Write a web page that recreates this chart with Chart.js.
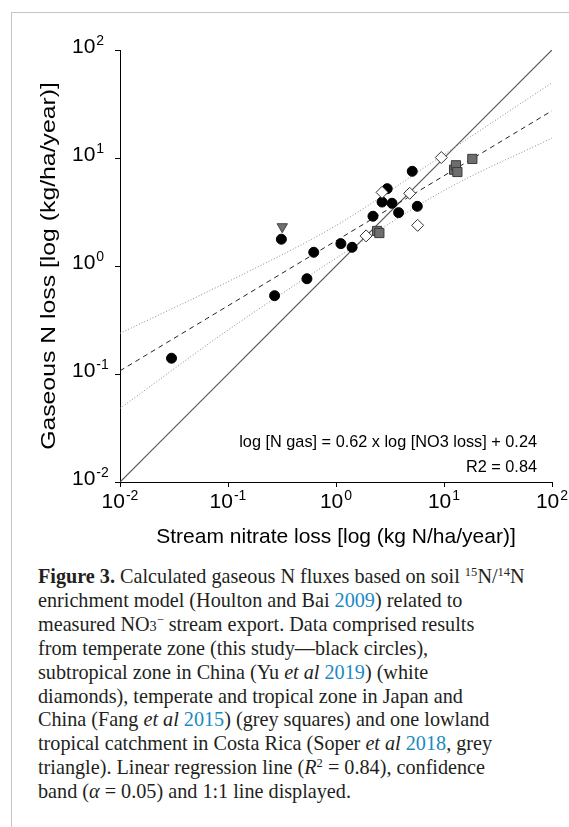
<!DOCTYPE html>
<html>
<head>
<meta charset="utf-8">
<script src="https://cdn.jsdelivr.net/npm/chart.js@4.4.0/dist/chart.umd.min.js"></script>
<style>
body{margin:0;background:#fff;width:569px;height:827px;overflow:hidden;position:relative;}
#frame{position:absolute;left:11px;top:12px;width:600px;height:900px;border-left:1px solid #c4c4c4;border-top:1px solid #c4c4c4;}
#plot{position:absolute;left:0;top:0;}
#caption{position:absolute;left:38px;top:565px;font-family:'Liberation Serif','Times New Roman',serif;font-size:20.2px;line-height:23.9px;color:#231f20;white-space:nowrap;}
#caption a{color:#1b8ac2;text-decoration:none;}
#caption sup{font-size:0.62em;line-height:0;vertical-align:0.55em;}
#caption sub{font-size:0.7em;line-height:0;vertical-align:0;}
</style>
</head>
<body>
<div id="frame"></div>
<canvas id="plot" width="569" height="560"></canvas>
<div id="caption">
<b>Figure 3.</b> Calculated gaseous N fluxes based on soil <sup>15</sup>N/<sup>14</sup>N<br>
enrichment model (Houlton and Bai <a>2009</a>) related to<br>
measured NO<sub>3</sub><sup>&minus;</sup> stream export. Data comprised results<br>
from temperate zone (this study&mdash;black circles),<br>
subtropical zone in China (Yu <i>et al</i> <a>2019</a>) (white<br>
diamonds), temperate and tropical zone in Japan and<br>
China (Fang <i>et al</i> <a>2015</a>) (grey squares) and one lowland<br>
tropical catchment in Costa Rica (Soper <i>et al</i> <a>2018</a>, grey<br>
triangle). Linear regression line (<i>R</i><sup>2</sup> = 0.84), confidence<br>
band (<i>&alpha;</i> = 0.05) and 1:1 line displayed.
</div>
<script>
// axis ticks (decades) and their exponents
const tickValues = [0.01, 0.1, 1, 10, 100];
const tickExponents = ['-2', '-1', '0', '1', '2'];

// this study - black circles
const circleX = [0.030, 0.270, 0.312, 0.538, 0.622, 1.11, 1.41, 2.20, 2.67, 2.98, 3.30, 3.80, 5.08, 5.66];
const circleY = [0.140, 0.531, 1.77, 0.762, 1.34, 1.61, 1.49, 2.89, 3.91, 5.20, 3.81, 3.12, 7.53, 3.57];
// Yu et al 2019 - white diamonds
const diamondX = [1.90, 2.67, 4.81, 5.70, 9.44];
const diamondY = [1.90, 4.81, 4.71, 2.38, 10.1];
// Fang et al 2015 - grey squares
const squareX = [2.40, 2.52, 12.4, 12.9, 13.3, 18.3];
const squareY = [2.11, 2.02, 7.79, 8.56, 7.42, 9.8];
// Soper et al 2018 - grey triangle
const triangleX = [0.318];
const triangleY = [2.31];

// 1:1 line
const oneToOneX = [0.01, 100];
const oneToOneY = [0.01, 100];
// regression line
const fitX = [0.01, 100];
const fitY = [0.107, 27.4];
// confidence band
const bandX = [0.01, 0.1, 1, 10, 100];
const bandUpper = [0.238, 0.716, 2.37, 10.8, 49.8];
const bandLower = [0.048, 0.255, 1.18, 5.0, 15.3];

const eqText = 'log [N gas] = 0.62 x log [NO3 loss] + 0.24';
const r2Text = 'R2 = 0.84';
const xTitle = 'Stream nitrate loss [log (kg N/ha/year)]';
const yTitle = 'Gaseous N loss [log (kg/ha/year)]';

function pts(xs, ys) {
    return xs.map((x, i) => ({x: x, y: ys[i]}));
}

const sans = '"Liberation Sans", Arial, sans-serif';

const textPlugin = {
    id: 'textPlugin',
    afterDraw(chart) {
        const ctx = chart.ctx;
        const xs = chart.scales.x, ys = chart.scales.y;
        ctx.save();
        ctx.fillStyle = '#000';
        ctx.textBaseline = 'alphabetic';
        ctx.textAlign = 'left';
        tickValues.forEach((v, i) => {
            ctx.font = '21px ' + sans;
            const w1 = ctx.measureText('10').width;
            ctx.font = '14px ' + sans;
            const w2 = ctx.measureText(tickExponents[i]).width;
            // x labels, centred under tick
            const px = xs.getPixelForValue(v);
            const left = px - (w1 + 1 + w2) / 2;
            const base = xs.top + 26;
            ctx.font = '21px ' + sans;
            ctx.fillText('10', left, base);
            ctx.font = '14px ' + sans;
            ctx.fillText(tickExponents[i], left + w1 + 1, base - 8);
            // y labels, left aligned
            const py = ys.getPixelForValue(v);
            ctx.font = '21px ' + sans;
            ctx.fillText('10', 72, py + 3);
            ctx.font = '14px ' + sans;
            ctx.fillText(tickExponents[i], 72 + w1 + 1, py - 5);
        });
        // axis titles
        ctx.font = '21px ' + sans;
        ctx.textAlign = 'center';
        ctx.fillText(xTitle, (xs.left + xs.right) / 2, 543);
        ctx.save();
        ctx.translate(55, (ys.top + ys.bottom) / 2);
        ctx.rotate(-Math.PI / 2);
        ctx.scale(1.18, 1);
        ctx.fillText(yTitle, 0, 0);
        ctx.restore();
        // regression text
        ctx.font = '16.3px ' + sans;
        ctx.textAlign = 'right';
        ctx.fillText(eqText, 537, 447);
        ctx.fillText(r2Text, 537, 472);
        ctx.restore();
    }
};

const axisOpts = {
    type: 'logarithmic',
    min: 0.01,
    max: 100,
    afterBuildTicks: (scale) => { scale.ticks = tickValues.map(v => ({value: v})); },
    ticks: {display: false},
    grid: {display: true, drawOnChartArea: false, drawTicks: true, tickLength: 5, color: '#000', lineWidth: 1},
    border: {display: true, color: '#000', width: 1}
};

new Chart(document.getElementById('plot').getContext('2d'), {
    type: 'scatter',
    data: {
        datasets: [
            {label: 'triangle', data: pts(triangleX, triangleY), pointStyle: 'triangle', rotation: 180,
             pointRadius: 6, backgroundColor: '#707070', borderColor: '#444', borderWidth: 1},
            {label: 'squares', data: pts(squareX, squareY), pointStyle: 'rect',
             pointRadius: 6.5, backgroundColor: '#6e6e6e', borderColor: '#3a3a3a', borderWidth: 1},
            {label: 'diamonds', data: pts(diamondX, diamondY), pointStyle: 'rectRot',
             pointRadius: 6, backgroundColor: '#fff', borderColor: '#333', borderWidth: 1},
            {label: 'circles', data: pts(circleX, circleY), pointStyle: 'circle',
             pointRadius: 5, backgroundColor: '#000', borderColor: '#000', borderWidth: 1},
            {label: 'fit', data: pts(fitX, fitY), showLine: true, pointRadius: 0,
             borderColor: '#222', borderWidth: 1, borderDash: [5, 4]},
            {label: 'upper', data: pts(bandX, bandUpper), showLine: true, pointRadius: 0,
             borderColor: '#8a8a8a', borderWidth: 1, borderDash: [1, 2], cubicInterpolationMode: 'monotone'},
            {label: 'lower', data: pts(bandX, bandLower), showLine: true, pointRadius: 0,
             borderColor: '#8a8a8a', borderWidth: 1, borderDash: [1, 2], cubicInterpolationMode: 'monotone'},
            {label: '1:1', data: pts(oneToOneX, oneToOneY), showLine: true, pointRadius: 0,
             borderColor: '#555', borderWidth: 1.2}
        ]
    },
    options: {
        responsive: false,
        animation: false,
        events: [],
        layout: {padding: {top: 50, right: 17, left: 0, bottom: 0}, autoPadding: false},
        plugins: {legend: {display: false}, tooltip: {enabled: false}},
        scales: {
            x: Object.assign({}, axisOpts, {afterFit: (s) => { s.height = 560 - 482; }}),
            y: Object.assign({}, axisOpts, {afterFit: (s) => { s.width = 120; }})
        }
    },
    plugins: [textPlugin]
});
</script>
</body>
</html>
